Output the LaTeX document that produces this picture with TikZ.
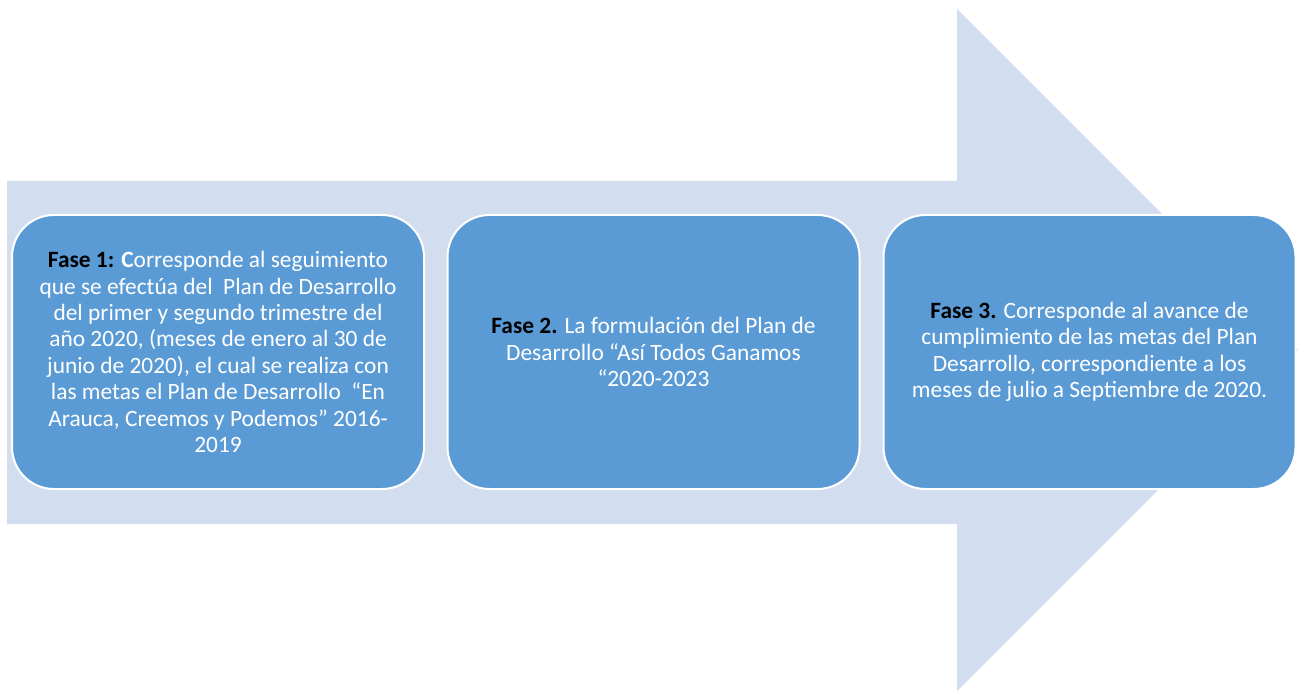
\documentclass[tikz,border=0pt]{standalone}
\usepackage{fontspec}
\setmainfont{Carlito}
\definecolor{arrowfill}{RGB}{210,222,239}
\definecolor{boxfill}{RGB}{91,155,213}
\begin{document}
\begin{tikzpicture}[x=1pt,y=-1pt,
  phase/.style={draw=white,line width=2pt,fill=boxfill,rounded corners=42pt,
    minimum width=412pt,minimum height=274pt,inner sep=0pt,align=center,
    text=white,font=\fontsize{23.4}{26.4}\selectfont}]
\useasboundingbox (0,0) rectangle (1301,692);
\fill[arrowfill] (7,181) -- (957,181) -- (957,9) -- (1298,350) -- (957,691) -- (957,524) -- (7,524) -- cycle;
\node[phase] (f1) at (218,352) {\textcolor{black}{\textbf{Fase 1:}} \textbf{C}orresponde al seguimiento\\que se efectúa del \ Plan de Desarrollo\\del primer y segundo trimestre del\\año 2020, (meses de enero al 30 de\\junio de 2020), el cual se realiza con\\las metas el Plan de Desarrollo \ “En\\Arauca, Creemos y Podemos” 2016-\\2019};
\node[phase] (f2) at (653.5,352) {\textcolor{black}{\textbf{Fase 2.}} La formulación del Plan de\\Desarrollo “Así Todos Ganamos\\“2020-2023};
\node[phase] (f3) at (1089.5,352) {\textcolor{black}{\textbf{Fase 3.}} Corresponde al avance de\\cumplimiento de las metas del Plan\\Desarrollo, correspondiente a los\\meses de julio a Septiembre de 2020.};
\end{tikzpicture}
\end{document}
